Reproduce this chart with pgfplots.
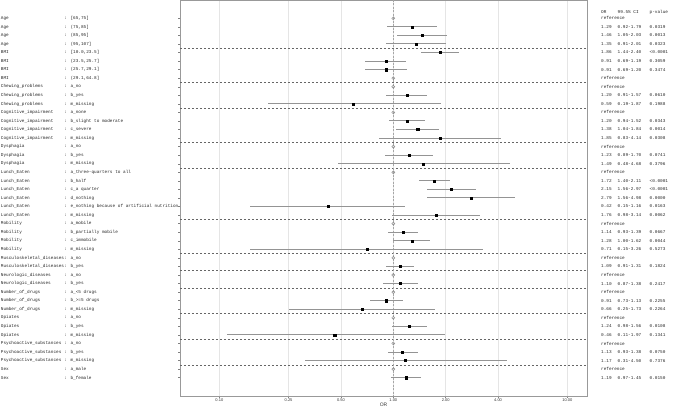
\documentclass[border=0pt]{standalone}
\usepackage{pgfplots}
\pgfplotsset{compat=1.18}
\usepackage{pgfplotstable}
\usepackage{fontspec}
\setmainfont{Liberation Sans}
\newfontfamily\mono{Liberation Mono}
\newcommand{\lab}[2]{\makebox[63.5bp][l]{#1}: #2}

\pgfplotstableread{
r or lo hi ci p
2 1.29 0.92 1.79 0.92-1.79 0.0319
3 1.46 1.05 2.03 1.05-2.03 0.0013
4 1.35 0.91 2.01 0.91-2.01 0.0323
5 1.86 1.44 2.40 1.44-2.40 <0.0001
6 0.91 0.69 1.19 0.69-1.19 0.3059
7 0.91 0.69 1.20 0.69-1.20 0.3474
10 1.20 0.91 1.57 0.91-1.57 0.0610
11 0.59 0.19 1.87 0.19-1.87 0.1988
13 1.20 0.94 1.52 0.94-1.52 0.0343
14 1.38 1.04 1.84 1.04-1.84 0.0014
15 1.85 0.83 4.14 0.83-4.14 0.0308
17 1.23 0.89 1.70 0.89-1.70 0.0741
18 1.49 0.48 4.68 0.48-4.68 0.3796
20 1.72 1.40 2.11 1.40-2.11 <0.0001
21 2.15 1.56 2.97 1.56-2.97 <0.0001
22 2.79 1.56 4.98 1.56-4.98 0.0000
23 0.42 0.15 1.16 0.15-1.16 0.0163
24 1.76 0.98 3.14 0.98-3.14 0.0062
26 1.14 0.93 1.39 0.93-1.39 0.0667
27 1.28 1.00 1.62 1.00-1.62 0.0044
28 0.71 0.15 3.26 0.15-3.26 0.5273
30 1.09 0.91 1.31 0.91-1.31 0.1824
32 1.10 0.87 1.38 0.87-1.38 0.2417
34 0.91 0.73 1.13 0.73-1.13 0.2255
35 0.66 0.25 1.73 0.25-1.73 0.2264
37 1.24 0.98 1.56 0.98-1.56 0.0108
38 0.46 0.11 1.97 0.11-1.97 0.1341
40 1.13 0.93 1.38 0.93-1.38 0.0750
41 1.17 0.31 4.50 0.31-4.50 0.7376
43 1.19 0.97 1.45 0.97-1.45 0.0150
}\est

\pgfplotstableread{
r
1
8
9
12
16
19
25
29
31
33
36
39
42
}\reftab

\begin{document}
\begin{tikzpicture}
\begin{axis}[
  at={(0,0)}, anchor=south west,
  scale only axis, width=407bp, height=396bp,
  xmode=log, xmin=0.0594, xmax=12.98,
  ymin=-1.14, ymax=45.14, y dir=reverse,
  clip=false,
  xtick={0.1,0.25,0.5,1,2,4,10},
  xticklabels={0.10,0.25,0.50,1.00,2.00,4.00,10.00},
  xticklabel style={font=\fontsize{4}{4}\selectfont, inner sep=1bp, text=black!80},
  ytick={1,...,43},
  yticklabels={
    {\lab{Age}{[65,75]}},
    {\lab{Age}{(75,85]}},
    {\lab{Age}{(85,95]}},
    {\lab{Age}{(95,107]}},
    {\lab{BMI}{[10.0,23.5]}},
    {\lab{BMI}{(23.5,25.7]}},
    {\lab{BMI}{(25.7,29.1]}},
    {\lab{BMI}{(29.1,64.8]}},
    {\lab{Chewing\_problems}{a\_no}},
    {\lab{Chewing\_problems}{b\_yes}},
    {\lab{Chewing\_problems}{m\_missing}},
    {\lab{Cognitive\_impairment}{a\_none}},
    {\lab{Cognitive\_impairment}{b\_slight to moderate}},
    {\lab{Cognitive\_impairment}{c\_severe}},
    {\lab{Cognitive\_impairment}{m\_missing}},
    {\lab{Dysphagia}{a\_no}},
    {\lab{Dysphagia}{b\_yes}},
    {\lab{Dysphagia}{m\_missing}},
    {\lab{Lunch\_Eaten}{a\_three-quarters to all}},
    {\lab{Lunch\_Eaten}{b\_half}},
    {\lab{Lunch\_Eaten}{c\_a quarter}},
    {\lab{Lunch\_Eaten}{d\_nothing}},
    {\lab{Lunch\_Eaten}{e\_nothing because of artificial nutrition}},
    {\lab{Lunch\_Eaten}{m\_missing}},
    {\lab{Mobility}{a\_mobile}},
    {\lab{Mobility}{b\_partially mobile}},
    {\lab{Mobility}{c\_immobile}},
    {\lab{Mobility}{m\_missing}},
    {\lab{Musculoskeletal\_diseases}{a\_no}},
    {\lab{Musculoskeletal\_diseases}{b\_yes}},
    {\lab{Neurologic\_diseases}{a\_no}},
    {\lab{Neurologic\_diseases}{b\_yes}},
    {\lab{Number\_of\_drugs}{a\_<5 drugs}},
    {\lab{Number\_of\_drugs}{b\_>=5 drugs}},
    {\lab{Number\_of\_drugs}{m\_missing}},
    {\lab{Opiates}{a\_no}},
    {\lab{Opiates}{b\_yes}},
    {\lab{Opiates}{m\_missing}},
    {\lab{Psychoactive\_substances}{a\_no}},
    {\lab{Psychoactive\_substances}{b\_yes}},
    {\lab{Psychoactive\_substances}{m\_missing}},
    {\lab{Sex}{a\_male}},
    {\lab{Sex}{b\_female}}
  },
  yticklabel style={font=\mono\fontsize{4.4}{5}\selectfont, anchor=west, xshift=-177.3bp, inner sep=0pt, text=black!85},
  tick align=outside, tick pos=left,
  major tick length=2bp,
  tick style={black!50, line width=0.4bp},
  axis line style={black!40, line width=0.6bp},
  xmajorgrids, major grid style={black!10, line width=0.4bp},
  extra y ticks={4.5,8.5,11.5,15.5,18.5,24.5,28.5,30.5,32.5,35.5,38.5,41.5},
  extra y tick labels={},
  extra y tick style={ymajorgrids=true, major tick length=0pt,
     major grid style={black!60, dash pattern=on 2.2bp off 1.8bp, line width=0.5bp}},
  xlabel={OR},
  xlabel style={font=\fontsize{5}{5}\selectfont, inner sep=0pt, text=black!80},
]
\coordinate (bl) at (axis description cs:0,0);
\coordinate (tr) at (axis description cs:1,1);
% reference line
\addplot[black!35, dash pattern=on 2bp off 1.5bp, line width=0.5bp] coordinates {(1,-1.14) (1,45.14)};
% CIs and estimates
\addplot[only marks, mark=square*, mark size=1.05bp, black,
  error bars/.cd, x dir=both, x explicit, error mark=none,
  error bar style={draw=black!42, line width=1bp}]
  table[x=or, y=r, x error plus expr=\thisrow{hi}-\thisrow{or}, x error minus expr=\thisrow{or}-\thisrow{lo}] {\est};
% reference markers
\addplot[only marks, mark=o, mark size=1.5bp, black!45, mark options={line width=0.5bp}]
  table[x expr=1, y=r] {\reftab};
% right-hand text columns
\pgfplotsset{rtext/.style={draw=none, mark=none, nodes near coords, nodes near coords align=horizontal,
  every node near coord/.append style={anchor=west, inner sep=0pt, xshift=0pt, yshift=0pt,
     font=\mono\fontsize{4.4}{5}\selectfont, text=black!85}}}
\addplot[rtext, point meta=explicit symbolic] coordinates {(15.62,0.3) [OR] (19.44,0.3) [99.5\% CI] (29.69,0.3) [p-value]};
\addplot[rtext, nodes near coords={reference}] table[x expr=15.62, y=r] {\reftab};
\addplot[rtext, point meta=explicit symbolic] table[x expr=15.62, y=r, meta=or] {\est};
\addplot[rtext, point meta=explicit symbolic] table[x expr=19.44, y=r, meta=ci] {\est};
\addplot[rtext, point meta=explicit symbolic] table[x expr=29.69, y=r, meta=p] {\est};
\end{axis}
\pgfresetboundingbox
\path[use as bounding box] ([shift={(-180bp,-12bp)}]bl) rectangle ([shift={(98bp,0bp)}]tr);
\end{tikzpicture}
\end{document}
